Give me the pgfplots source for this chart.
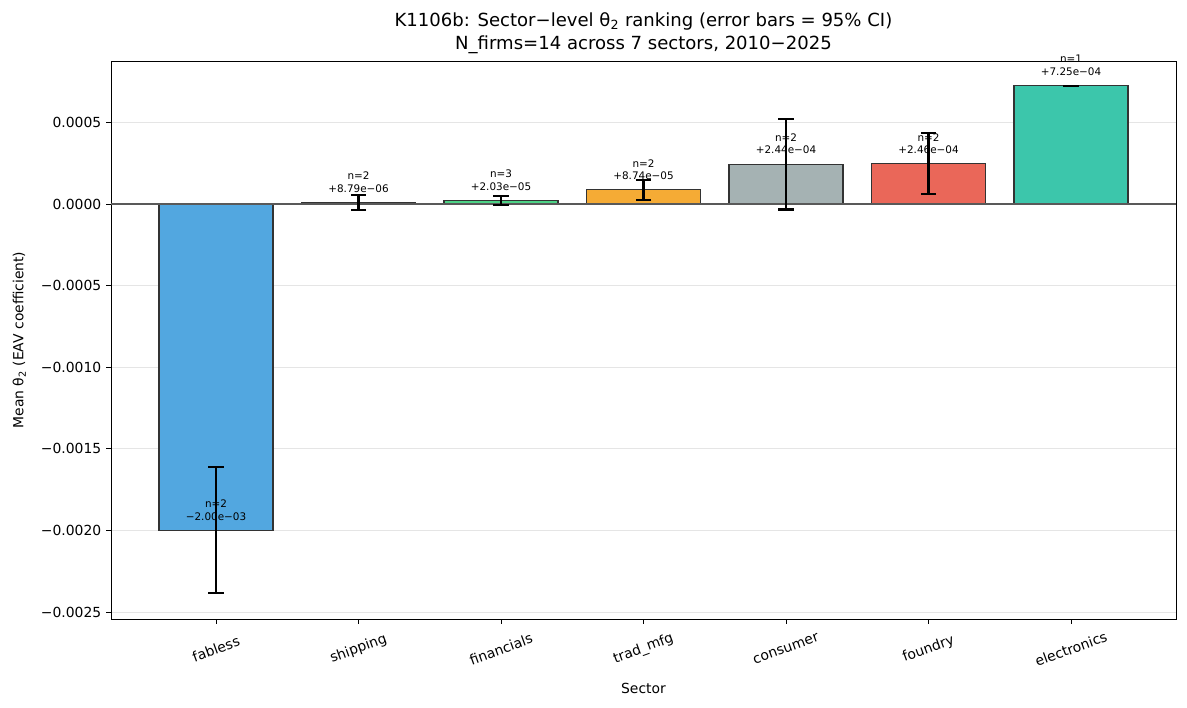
\documentclass[border=0pt]{standalone}
\usepackage{pgfplots}
\pgfplotsset{compat=1.18}
\usepackage{fontspec}
\setmainfont{DejaVu Sans}
\definecolor{cfab}{HTML}{52A7E0}
\definecolor{cship}{HTML}{3E5467}
\definecolor{cfin}{HTML}{4DD386}
\definecolor{ctrad}{HTML}{F5AB35}
\definecolor{ccons}{HTML}{A5B2B3}
\definecolor{cfound}{HTML}{EA6759}
\definecolor{celec}{HTML}{3CC6AB}
\definecolor{edgec}{HTML}{333333}
\begin{document}
\begin{tikzpicture}
\path[use as bounding box] (-79.9pt,-63.4pt) rectangle (774.7pt,445.7pt);
\begin{axis}[
  at={(0pt,0pt)}, anchor=south west,
  scale only axis, width=766.8pt, height=401.8pt,
  xmin=-0.737, xmax=6.737,
  ymin=-0.002543, ymax=0.000876,
  xtick={0,1,2,3,4,5,6},
  xticklabels={fabless,shipping,financials,trad\_mfg,consumer,foundry,electronics},
  xticklabel style={yshift=-18pt, rotate=20, anchor=center, font=\fontsize{10}{12}\selectfont},
  ytick={-0.0025,-0.002,-0.0015,-0.001,-0.0005,0,0.0005},
  yticklabels={−0.0025,−0.0020,−0.0015,−0.0010,−0.0005,0.0000,0.0005},
  yticklabel style={font=\fontsize{10}{12}\selectfont},
  scaled y ticks=false,
  tick align=outside, tick pos=left,
  major tick length=3.5pt,
  tick style={black, line width=0.6pt},
  axis line style={line width=0.6pt},
  ymajorgrids, grid style={gray!20, line width=0.6pt},
  xlabel={Sector}, ylabel={Mean θ\textsubscript{2} (EAV coefficient)},
  label style={font=\fontsize{10}{12}\selectfont},
  xlabel style={yshift=-4pt},
  ylabel style={yshift=4pt},
  title style={align=center, font=\fontsize{13}{17}\selectfont, yshift=-4.5pt},
  title={K1106b: Sector−level θ\textsubscript{2} ranking (error bars = 95\% CI)\\N\_firms=14 across 7 sectors, 2010−2025},
  clip=false,
]
\addplot[ybar, bar width=0.8, bar shift=0pt, fill=cfab, draw=edgec, line width=0.8pt] coordinates {(0,-0.00200)};
\addplot[ybar, bar width=0.8, bar shift=0pt, fill=cship, draw=edgec, line width=0.8pt] coordinates {(1,0.00000879)};
\addplot[ybar, bar width=0.8, bar shift=0pt, fill=cfin, draw=edgec, line width=0.8pt] coordinates {(2,0.0000203)};
\addplot[ybar, bar width=0.8, bar shift=0pt, fill=ctrad, draw=edgec, line width=0.8pt] coordinates {(3,0.0000874)};
\addplot[ybar, bar width=0.8, bar shift=0pt, fill=ccons, draw=edgec, line width=0.8pt] coordinates {(4,0.000244)};
\addplot[ybar, bar width=0.8, bar shift=0pt, fill=cfound, draw=edgec, line width=0.8pt] coordinates {(5,0.000246)};
\addplot[ybar, bar width=0.8, bar shift=0pt, fill=celec, draw=edgec, line width=0.8pt] coordinates {(6,0.000725)};
\draw[black!65, line width=0.8pt] (axis cs:-0.737,0) -- (axis cs:6.737,0);
\addplot[draw=none, mark=none,
  error bars/.cd, y dir=both, y explicit,
  error mark=|, error mark options={mark size=5.5pt, line width=1.5pt, black},
  error bar style={line width=1.5pt, black}]
  coordinates {
  (0,-0.00200) +- (0,0.000386)
  (1,0.00000879) +- (0,0.000046)
  (2,0.0000203) +- (0,0.000028)
  (3,0.0000874) +- (0,0.000061)
  (4,0.000244) +- (0,0.000278)
  (5,0.000246) +- (0,0.000186)
  (6,0.000725) +- (0,0.0)
  };
\tikzset{lbl/.style={anchor=south, align=center, inner sep=0pt, yshift=7pt, font=\fontsize{7.5}{9}\selectfont}}
\node[lbl] at (axis cs:0,-0.00200) {n=2\\−2.00e−03};
\node[lbl] at (axis cs:1,0.00000879) {n=2\\+8.79e−06};
\node[lbl] at (axis cs:2,0.0000203) {n=3\\+2.03e−05};
\node[lbl] at (axis cs:3,0.0000874) {n=2\\+8.74e−05};
\node[lbl] at (axis cs:4,0.000244) {n=2\\+2.44e−04};
\node[lbl] at (axis cs:5,0.000246) {n=2\\+2.46e−04};
\node[lbl] at (axis cs:6,0.000725) {n=1\\+7.25e−04};
\end{axis}
\end{tikzpicture}
\end{document}
